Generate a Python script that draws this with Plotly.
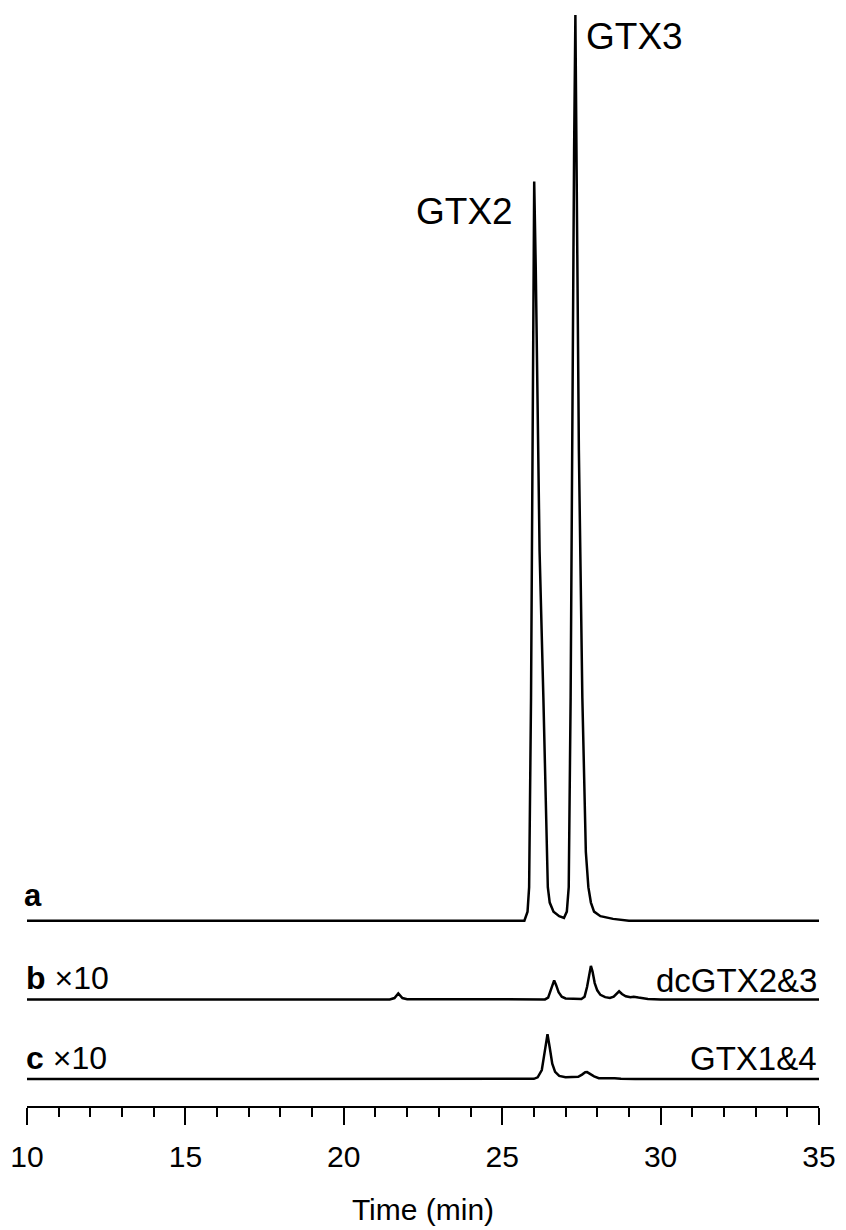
import plotly.graph_objects as go

# ---- data ----
# trace a: GTX2 / GTX3 standard (signal units, GTX3 = 1000)
time_a = [10.0, 25.70, 25.80, 25.85, 25.91, 25.935, 25.96, 25.975, 26.01, 26.06, 26.10,
          26.18, 26.30, 26.44, 26.50, 26.62, 26.80, 26.95, 27.04, 27.10, 27.16, 27.20,
          27.245, 27.27, 27.31, 27.34, 27.36, 27.42, 27.53, 27.64, 27.72, 27.80, 27.90,
          28.10, 28.50, 29.00, 35.0]
sig_a = [0, 0, 10, 37, 246, 408, 600, 719, 816, 719, 600,
         408, 246, 37, 20, 10, 5, 3, 10, 37, 246, 520,
         753, 851, 1000, 851, 753, 520, 246, 76, 37, 20, 10,
         5, 2, 0, 0]

# trace b: x10 (dcGTX2&3 product)
time_b = [10.0, 21.45, 21.60, 21.72, 21.85, 22.00, 26.35, 26.45, 26.53, 26.60, 26.64,
          26.70, 26.78, 26.88, 27.00, 27.50, 27.60, 27.68, 27.75, 27.80, 27.85, 27.92,
          28.00, 28.10, 28.25, 28.40, 28.52, 28.62, 28.69, 28.78, 28.90, 29.05, 29.15,
          29.30, 29.60, 30.00, 35.0]
sig_b = [0, 0, 1.5, 6.5, 1.5, 0.3, 0, 2, 10, 19, 21,
         16, 8, 3, 1, 0.5, 3, 14, 30, 37, 31, 18,
         10, 5, 2.5, 1.5, 3, 7, 9, 6, 3.5, 2.5, 3,
         2, 0.5, 0, 0]

# trace c: x10 (GTX1&4 product)
time_c = [10.0, 23.50, 23.65, 23.80, 26.00, 26.12, 26.25, 26.35, 26.43, 26.50, 26.58,
          26.67, 26.80, 27.00, 27.20, 27.30, 27.40, 27.52, 27.62, 27.68, 27.78, 27.90,
          28.05, 28.25, 28.40, 28.55, 28.75, 29.20, 35.0]
sig_c = [0, 0, 0.6, 0.3, 0.3, 2, 10, 32, 49.5, 35, 17,
         8, 3.5, 2, 2.2, 3, 2.5, 5, 7.5, 7.7, 5.5, 3,
         1, 1, 1.8, 1, 0.3, 0, 0]

x_ticks = [10, 15, 20, 25, 30, 35]

FONT = "Liberation Sans, Arial, sans-serif"
LINE = dict(color="black", width=2.5)

fig = go.Figure()
fig.add_trace(go.Scatter(x=time_a, y=sig_a, mode="lines", line=LINE, yaxis="y", showlegend=False))
fig.add_trace(go.Scatter(x=time_b, y=sig_b, mode="lines", line=LINE, yaxis="y2", showlegend=False))
fig.add_trace(go.Scatter(x=time_c, y=sig_c, mode="lines", line=LINE, yaxis="y3", showlegend=False))

hidden = dict(visible=False, fixedrange=True)
fig.update_layout(
    width=846, height=1230,
    margin=dict(l=25, r=21, t=10, b=119),
    paper_bgcolor="white", plot_bgcolor="white",
    font=dict(family=FONT, color="black"),
    hovermode=False,
    xaxis=dict(
        range=[10, 35], tickvals=x_ticks, ticks="outside", ticklen=17, tickwidth=2,
        tickcolor="black", showline=True, linecolor="black", linewidth=2,
        showgrid=False, zeroline=False, anchor="free", position=0,
        ticklabelstandoff=6,
        tickfont=dict(size=30, family=FONT, color="black"),
        minor=dict(dtick=1, ticks="outside", ticklen=9, tickwidth=2, tickcolor="black", showgrid=False),
        title=dict(text="Time (min)", font=dict(size=30, family=FONT, color="black"), standoff=26),
    ),
    yaxis=dict(domain=[0.16076, 1.0], range=[-11, 1005.5], **hidden),
    yaxis2=dict(domain=[0.0890, 0.1526], range=[-11, 66], **hidden),
    yaxis3=dict(domain=[0.01635, 0.0799], range=[-11, 66], **hidden),
)

def ann(text, x, y, xref, yref, xanchor, size):
    fig.add_annotation(text=text, x=x, y=y, xref=xref, yref=yref, xanchor=xanchor,
                       yanchor="middle", showarrow=False,
                       font=dict(size=size, family=FONT, color="black"))

ann("GTX2", 25.41, 783, "x", "y", "right", 37)
ann("GTX3", 27.59, 976, "x", "y", "left", 37)
ann("<b>a</b>", -0.00625, 28, "paper", "y", "left", 31)
ann("<b>b</b> ×10", -0.004, 23.6, "paper", "y2", "left", 32)
ann("dcGTX2&3", 1.0, 21, "paper", "y2", "right", 33)
ann("<b>c</b> ×10", -0.004, 23.6, "paper", "y3", "left", 32)
ann("GTX1&4", 1.0, 23, "paper", "y3", "right", 33)

fig.write_html("out.html", config={"displayModeBar": False},
               post_script="document.body.style.margin='0';")
